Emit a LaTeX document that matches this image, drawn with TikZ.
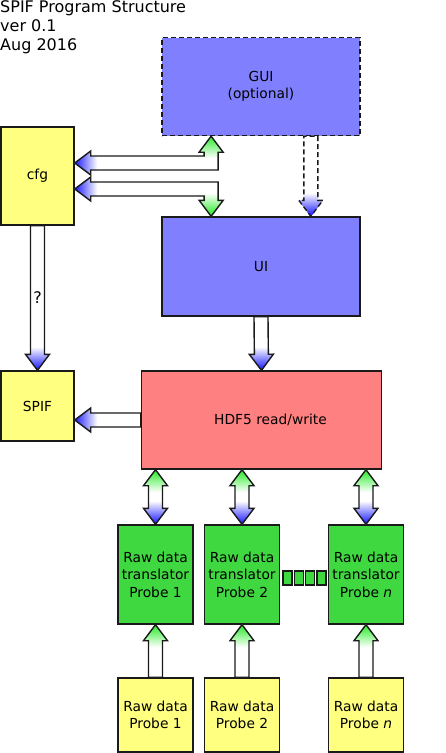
\documentclass[tikz,border=0pt]{standalone}
\usepackage{fontspec}
\setmainfont{DejaVu Sans}
\usetikzlibrary{calc}
\definecolor{uiblue}{RGB}{128,128,255}
\definecolor{cfgyellow}{RGB}{255,255,128}
\definecolor{hdfred}{RGB}{255,128,128}
\definecolor{trgreen}{RGB}{64,216,64}
\definecolor{tipblue}{RGB}{30,30,255}
\definecolor{tipgreen}{RGB}{40,235,40}
\definecolor{edge}{RGB}{26,26,26}

\newcommand\arrowsetup[2]{%
  \path (#1); \pgfgetlastxy{\arax}{\aray}%
  \path (#2); \pgfgetlastxy{\arbx}{\arby}%
  \pgfmathsetmacro\arlen{veclen(\arbx-\arax,\arby-\aray)}%
  \pgfmathsetmacro\arux{(\arbx-\arax)/\arlen}%
  \pgfmathsetmacro\aruy{(\arby-\aray)/\arlen}}
% colour fade at the tip #1 of an arrow coming from #2
\newcommand\tipshade[3]{%
  \path (#2); \pgfgetlastxy{\shax}{\shay}%
  \path (#1); \pgfgetlastxy{\shbx}{\shby}%
  \pgfmathsetmacro\shlen{veclen(\shbx-\shax,\shby-\shay)}%
  \pgfmathsetmacro\shux{(\shbx-\shax)/\shlen}%
  \pgfmathsetmacro\shuy{(\shby-\shay)/\shlen}%
  \foreach \k [evaluate=\k as \pc using int(100-4.5*\k)] in {22,...,0}
    \fill[#3!\pc!white] ({\shbx+3*(\shux)-13*(\shuy)},{\shby+3*(\shuy)+13*(\shux)})
      rectangle ({\shbx-(\k+1)*(\shux)+13*(\shuy)},{\shby-(\k+1)*(\shuy)-13*(\shux)});}
\newcommand\fatarrow[4][]{%
  \arrowsetup{#2}{#3}%
  \draw[fatline,#1,path picture={\tipshade{#3}{#2}{#4}}]
    ({\arax-7*(\aruy)},{\aray+7*(\arux)}) -- ({\arbx-16*(\arux)-7*(\aruy)},{\arby-16*(\aruy)+7*(\arux)})
    -- ({\arbx-16*(\arux)-12*(\aruy)},{\arby-16*(\aruy)+12*(\arux)}) -- (\arbx,\arby)
    -- ({\arbx-16*(\arux)+12*(\aruy)},{\arby-16*(\aruy)-12*(\arux)}) -- ({\arbx-16*(\arux)+7*(\aruy)},{\arby-16*(\aruy)-7*(\arux)})
    -- ({\arax+7*(\aruy)},{\aray-7*(\arux)}) -- cycle;}
\newcommand\fatdarrow[4]{%
  \arrowsetup{#1}{#2}%
  \draw[fatline,path picture={\tipshade{#2}{#1}{#4}\tipshade{#1}{#2}{#3}}]
    (\arax,\aray) -- ({\arax+16*(\arux)-12*(\aruy)},{\aray+16*(\aruy)+12*(\arux)})
    -- ({\arax+16*(\arux)-7*(\aruy)},{\aray+16*(\aruy)+7*(\arux)}) -- ({\arbx-16*(\arux)-7*(\aruy)},{\arby-16*(\aruy)+7*(\arux)})
    -- ({\arbx-16*(\arux)-12*(\aruy)},{\arby-16*(\aruy)+12*(\arux)}) -- (\arbx,\arby)
    -- ({\arbx-16*(\arux)+12*(\aruy)},{\arby-16*(\aruy)-12*(\arux)}) -- ({\arbx-16*(\arux)+7*(\aruy)},{\arby-16*(\aruy)-7*(\arux)})
    -- ({\arax+16*(\arux)+7*(\aruy)},{\aray+16*(\aruy)-7*(\arux)}) -- ({\arax+16*(\arux)+12*(\aruy)},{\aray+16*(\aruy)-12*(\arux)}) -- cycle;}

\begin{document}
\begin{tikzpicture}[x=1pt,y=-1pt,
    box/.style={draw=edge,line width=1.4pt,inner sep=0pt,align=center,font=\fontsize{13.8}{17.5}\selectfont},
    fatline/.style={draw=edge,line width=1.4pt,fill=white}]
    \useasboundingbox (0,0) rectangle (446,753);
    \node[anchor=north west,align=left,inner sep=0pt,font=\fontsize{16}{19}\selectfont] (title) at (0,0) {SPIF Program Structure\\ver 0.1\\Aug 2016};
    \node[box,fill=uiblue,dash pattern=on 5pt off 3pt,minimum width=198pt,minimum height=98pt] (gui) at (261,86.5) {GUI\\(optional)};
    \node[box,fill=cfgyellow,minimum width=73pt,minimum height=98pt] (cfg) at (37.5,176) {cfg};
    \node[box,fill=uiblue,minimum width=198pt,minimum height=99pt] (ui) at (261,266.5) {UI};
    \node[box,fill=cfgyellow,minimum width=73pt,minimum height=70pt] (spif) at (37.5,406) {SPIF};
    \node[box,fill=hdfred,minimum width=240pt,minimum height=98pt] (hdf) at (261.5,420) {\hspace*{18pt}HDF5 read/write};
    \node[box,fill=trgreen,minimum width=75pt,minimum height=99pt] (t1) at (155.5,574.5) {Raw data\\translator\\Probe 1};
    \node[box,fill=trgreen,minimum width=75pt,minimum height=99pt] (t2) at (242,574.5) {Raw data\\translator\\Probe 2};
    \node[box,fill=trgreen,minimum width=75pt,minimum height=99pt] (t3) at (366,574.5) {Raw data\\translator\\Probe \textit{n}};
    \node[box,fill=cfgyellow,minimum width=75pt,minimum height=74pt] (r1) at (155.5,715) {Raw data\\Probe 1};
    \node[box,fill=cfgyellow,minimum width=75pt,minimum height=74pt] (r2) at (242,715) {Raw data\\Probe 2};
    \node[box,fill=cfgyellow,minimum width=75pt,minimum height=74pt] (r3) at (366,715) {Raw data\\Probe \textit{n}};
    \foreach \i in {1,...,4}
        \node[box,fill=trgreen,minimum width=9pt,minimum height=14pt] (dot\i) at (276.17+11.33*\i,578) {};
    \coordinate (gq) at ($(gui.south west)!.75!(gui.south east)$);
    \coordinate (uq) at ($(ui.north west)!.75!(ui.north east)$);
    \fatarrow{cfg.south}{spif.north}{tipblue}
    \node[font=\fontsize{16}{19}\selectfont,inner sep=0pt] (q) at ($(cfg.south)!.5!(spif.north)$) {?};
    \fatarrow[dash pattern=on 5pt off 3pt]{gq}{uq}{tipblue}
    \fatarrow{ui.south}{hdf.north}{tipblue}
    \fatarrow{hdf.west}{spif.east |- hdf.west}{tipblue}
    \foreach \i in {1,2,3} {
        \fatdarrow{hdf.south -| t\i.north}{t\i.north}{tipgreen}{tipblue}
        \fatarrow{r\i.north}{t\i.south}{tipgreen}
    }
    \coordinate (a1) at ($(cfg.east)+(0,-13)$);
    \coordinate (a2) at ($(gui.south west)!.25!(gui.south east)$);
    \draw[fatline,path picture={\tipshade{a1}{a2 |- a1}{tipblue}\tipshade{a2}{a2 |- a1}{tipgreen}}]
        (a1) -- ++(16,-12) -- ++(0,5) -- ($(a2 |- a1)+(-7,-7)$) -- ($(a2)+(-7,16)$) -- ++(-5,0) -- (a2)
        -- ++(12,16) -- ++(-5,0) -- ($(a2 |- a1)+(7,7)$) -- ($(a1)+(16,7)$) -- ++(0,5) -- cycle;
    \coordinate (b1) at ($(cfg.east)+(0,13)$);
    \coordinate (b2) at ($(ui.north west)!.25!(ui.north east)$);
    \draw[fatline,path picture={\tipshade{b1}{b2 |- b1}{tipblue}\tipshade{b2}{b2 |- b1}{tipgreen}}]
        (b1) -- ++(16,-12) -- ++(0,5) -- ($(b2 |- b1)+(7,-7)$) -- ($(b2)+(7,-16)$) -- ++(5,0) -- (b2)
        -- ++(-12,-16) -- ++(5,0) -- ($(b2 |- b1)+(-7,7)$) -- ($(b1)+(16,7)$) -- ++(0,5) -- cycle;
\end{tikzpicture}
\end{document}
